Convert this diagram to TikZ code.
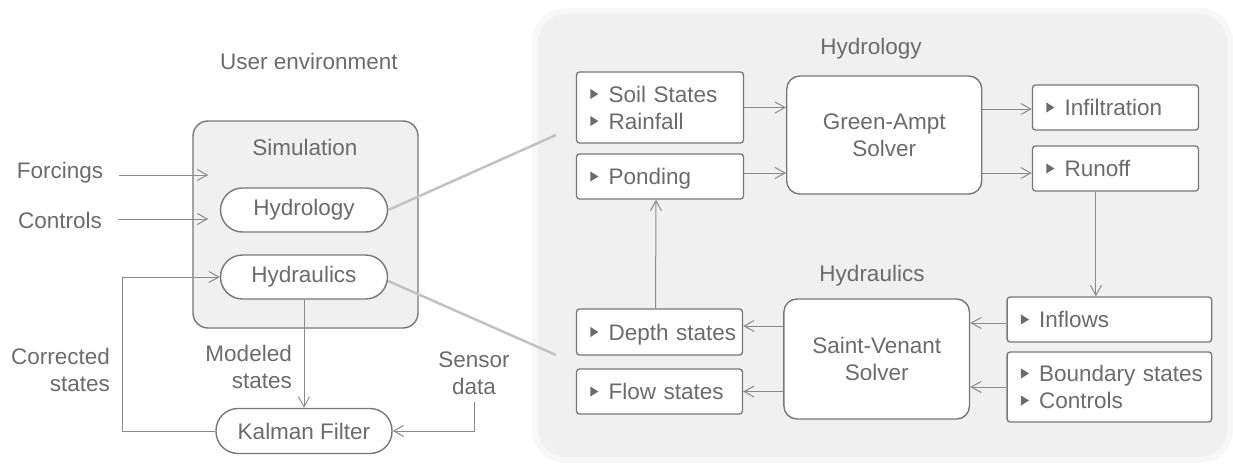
\documentclass[tikz,border=0pt]{standalone}
\usepackage{fontspec}
\setmainfont{Liberation Sans}
\usetikzlibrary{arrows.meta}
\definecolor{txtgray}{HTML}{6B6B6B}
\definecolor{boxgray}{HTML}{777777}
\definecolor{arrgray}{HTML}{8A8A8A}
\definecolor{zoomgray}{HTML}{C2C2C2}
\definecolor{panelgray}{HTML}{F0F0F0}
\definecolor{halogray}{HTML}{F7F7F7}
\newcommand{\li}[1]{\mbox{\hspace{17.5pt}#1}}
\newcommand{\tri}[1]{\fill[txtgray] #1 ++(0,-5) -- ++(8,5) -- ++(-8,5) -- cycle;}

\tikzset{
    lbl/.style={text=txtgray, font=\fontsize{22.5}{27}\selectfont, inner sep=0pt},
    pill/.style={lbl, draw=boxgray, line width=1.4pt, fill=white, rounded corners=22pt, minimum height=44pt},
    solverbox/.style={lbl, draw=boxgray, line width=1.4pt, fill=white, rounded corners=13pt, align=center},
    listbox/.style={lbl, draw=boxgray, line width=1.3pt, fill=white, rounded corners=3pt, align=left,
                    inner xsep=14.5pt},
    onebox/.style={listbox, text depth=0pt},
    arr/.style={draw=arrgray, line width=1pt, -{Straight Barb[length=10pt,width=11pt]}},
    zoomline/.style={draw=zoomgray, line width=2.5pt}
}

\begin{document}
\begin{tikzpicture}[x=1pt,y=-1pt]
    \useasboundingbox (0,0) rectangle (1233,463);
    % model panel
    \fill[halogray, rounded corners=33pt] (532,8) rectangle (1233,463);
    \fill[panelgray, rounded corners=28pt] (538,14) rectangle (1227,457);

    % user environment
    \node[lbl] (uenv) at (309,61) {User environment};
    \node[lbl, draw=boxgray, line width=1.4pt, fill=panelgray, rounded corners=15pt,
          minimum width=225pt, minimum height=207pt] (sim) at (305.5,224.5) {};
    \node[lbl] (simtitle) at (305,147) {Simulation};
    \node[pill, minimum width=167pt] (hydro) at (304,210) {Hydrology};
    \node[pill, minimum width=167pt] (hydra) at (304,277) {Hydraulics};
    \node[pill, minimum width=176pt, minimum height=45pt] (kal) at (304,431) {Kalman Filter};
    \node[lbl] (forc) at (60,173) {Forcings};
    \node[lbl] (ctrl) at (60,220) {Controls};
    \node[lbl, anchor=east, align=right] (corr) at (110,369.5) {Corrected\\states};
    \node[lbl, anchor=east, align=right] (modl) at (292,367) {Modeled\\states};
    \node[lbl, align=center] (sens) at (474,373) {Sensor\\data};

    \draw[arr] ([xshift=16pt,yshift=-2pt]forc.east) -- ([xshift=16pt,yshift=-2pt]forc.east -| sim.west);
    \draw[arr] ([xshift=16pt,yshift=1pt]ctrl.east) -- ([xshift=16pt,yshift=1pt]ctrl.east -| sim.west);
    \coordinate (cturn) at (122,431);
    \draw[arr] (kal.west) -- (cturn) |- (hydra.west);
    \draw[arr] (hydra.south) -- (kal.north);
    \draw[arr, shorten <=7pt] (sens.south) |- (kal.east);

    % zoom lines
    \coordinate (hzoom) at (556,135);
    \coordinate (dzoom) at (556,355);
    \draw[zoomline] (hydro.east) -- (hzoom);
    \draw[zoomline] ([yshift=-4pt]hydra.east) -- (dzoom);

    % hydrology
    \node[lbl] (hytitle) at (871,49) {Hydrology};
    \node[listbox, text width=138pt, minimum height=71pt] (soil) at (660,107.5) {\li{Soil States}\\\li{Rainfall}};
    \node[onebox, text width=138pt, minimum height=45pt] (pond) at (660,176.5) {\li{Ponding}};
    \node[solverbox, minimum width=195pt, minimum height=118pt] (ga) at (884.25,135) {Green-Ampt\\Solver};
    \node[onebox, text width=137pt, minimum height=45pt] (infil) at (1115.5,107.5) {\li{Infiltration}};
    \node[onebox, text width=137pt, minimum height=45pt] (runoff) at (1115.5,168.5) {\li{Runoff}};
    \tri{([xshift=14.5pt,yshift=13.5pt]soil.west)}
    \tri{([xshift=14.5pt,yshift=-13.5pt]soil.west)}
    \tri{([xshift=14.5pt]pond.west)}
    \tri{([xshift=14.5pt]infil.west)}
    \tri{([xshift=14.5pt]runoff.west)}

    \draw[arr] (soil.east) -- (soil.east -| ga.west);
    \draw[arr] ([yshift=3.5pt]pond.east) -- ([yshift=3.5pt]pond.east -| ga.west);
    \draw[arr] ([yshift=-1.5pt]ga.east |- infil.west) -- ([yshift=-1.5pt]infil.west);
    \draw[arr] ([yshift=-4.5pt]runoff.west -| ga.east) -- ([yshift=-4.5pt]runoff.west);

    % hydraulics
    \node[lbl] (hatitle) at (872,276) {Hydraulics};
    \node[onebox, text width=137pt, minimum height=46pt] (depth) at (659.5,332) {\li{Depth states}};
    \node[onebox, text width=137pt, minimum height=45pt] (flow) at (659.5,391.5) {\li{Flow states}};
    \node[solverbox, minimum width=185.6pt, minimum height=120pt] (sv) at (876.7,359) {Saint-Venant\\Solver};
    \node[onebox, text width=175.6pt, minimum height=45pt] (inflow) at (1109.4,319.5) {\li{Inflows}};
    \node[listbox, text width=175.6pt, minimum height=70pt] (bound) at (1109.4,387) {\li{Boundary states}\\\li{Controls}};
    \tri{([xshift=14.5pt]depth.west)}
    \tri{([xshift=14.5pt]flow.west)}
    \tri{([xshift=14.5pt]inflow.west)}
    \tri{([xshift=14.5pt,yshift=13.5pt]bound.west)}
    \tri{([xshift=14.5pt,yshift=-13.5pt]bound.west)}

    \draw[arr] ([xshift=-19.6pt]runoff.south) -- ([xshift=-19.6pt]runoff.south |- inflow.north);
    \draw[arr] ([xshift=-4pt]depth.north) -- ([xshift=-4pt]pond.south);
    \draw[arr] ([yshift=-3.5pt]inflow.west) -- ([yshift=-3.5pt]inflow.west -| sv.east);
    \draw[arr] (bound.west) -- (bound.west -| sv.east);
    \draw[arr] ([yshift=6pt]depth.east -| sv.west) -- ([yshift=6pt]depth.east);
    \draw[arr] (flow.east -| sv.west) -- (flow.east);
\end{tikzpicture}
\end{document}
